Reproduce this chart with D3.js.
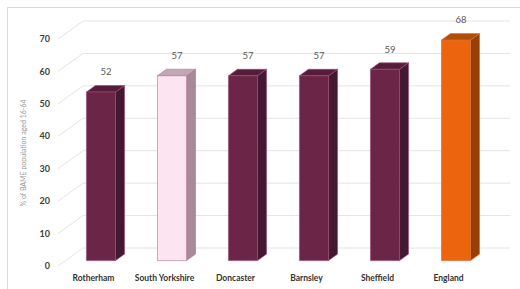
<!DOCTYPE html>
<html>
<head>
<meta charset="utf-8">
<script src="https://cdn.jsdelivr.net/npm/d3@7"></script>
<style>
body { margin: 0; background: #fff; }
text { font-family: Lato, "Open Sans", sans-serif; }
</style>
</head>
<body>
<script>
const areas = ['Rotherham', 'South Yorkshire', 'Doncaster', 'Barnsley', 'Sheffield', 'England'];
const values = [52, 57, 57, 57, 59, 68];
const yTicks = [0, 10, 20, 30, 40, 50, 60, 70];

// colours per bar: [front, side, top, edge]
const maroon = ['#6b2547', '#451831', '#561d3a', '#9c4a78'];
const pink = ['#fce4f1', '#a68a97', '#c2a7b5', '#b56e95'];
const orange = ['#ec640c', '#963f07', '#b24d08', '#d06a3a'];
const barColors = [maroon, pink, maroon, maroon, maroon, orange];

const w = 520, h = 289;

// depth offset of the back wall
const ddx = 25, ddy = -18;

// front plane
const x = d3.scaleBand().domain(areas).range([58, 484]);
const y = d3.scaleLinear().domain([0, 70]).range([266, 39]);

const svg = d3.select('body').append('svg')
    .attr('width', w)
    .attr('height', h);

// outer frame (top + left only are visible)
svg.append('path')
    .attr('d', `M7.5,${h} L7.5,7.5 L${w},7.5`)
    .attr('fill', 'none')
    .attr('stroke', '#d9d9d9');

// gridlines: side wall diagonal + back wall
const grid = svg.append('g').attr('stroke', '#e4e4e4').attr('fill', 'none');
yTicks.forEach(t => {
    let yy = y(t);
    grid.append('path')
        .attr('d', `M${x.range()[0]},${yy} L${x.range()[0] + ddx},${yy + ddy} L${x.range()[1] + ddx + 1},${yy + ddy}`);
});

// tick labels
svg.append('g').selectAll('text')
    .data(yTicks)
    .enter()
    .append('text')
    .attr('x', 50)
    .attr('y', d => y(d))
    .attr('dy', '0.35em')
    .attr('text-anchor', 'end')
    .attr('font-size', 9)
    .attr('font-weight', 'bold')
    .attr('fill', '#404040')
    .text(d => d);

// axis title
svg.append('text')
    .attr('transform', 'translate(24,153) rotate(-90)')
    .attr('text-anchor', 'middle')
    .attr('dy', '0.35em')
    .attr('font-size', 7)
    .attr('fill', '#999')
    .text('% of BAME population aged 16-64');

// bars
const bw = x.bandwidth() * 0.41;
const d0 = 0.3, d1 = 0.66;   // bar depth span
const bars = svg.append('g');
areas.forEach((a, i) => {
    let c = barColors[i];
    let fx = x(a) + (x.bandwidth() - bw) / 2 + ddx * d0;
    let off = ddy * d0;
    let yb = y(0) + off, yt = y(values[i]) + off;
    let sx = ddx * (d1 - d0), sy = ddy * (d1 - d0);
    let g = bars.append('g').attr('stroke', c[3]).attr('stroke-width', 0.6).attr('stroke-linejoin', 'round');
    // side
    g.append('path')
        .attr('d', `M${fx + bw},${yt} L${fx + bw + sx},${yt + sy} L${fx + bw + sx},${yb + sy} L${fx + bw},${yb} Z`)
        .attr('fill', c[1]);
    // top
    g.append('path')
        .attr('d', `M${fx},${yt} L${fx + sx},${yt + sy} L${fx + bw + sx},${yt + sy} L${fx + bw},${yt} Z`)
        .attr('fill', c[2]);
    // front
    g.append('rect')
        .attr('x', fx).attr('y', yt)
        .attr('width', bw).attr('height', yb - yt)
        .attr('fill', c[0]);
    // value label
    svg.append('text')
        .attr('x', fx + bw / 2 + 5)
        .attr('y', yt - 20)
        .attr('dy', '0.35em')
        .attr('text-anchor', 'middle')
        .attr('font-size', 9.5)
        .attr('fill', '#595959')
        .text(values[i]);
});

// category labels
svg.append('g').selectAll('text')
    .data(areas)
    .enter()
    .append('text')
    .attr('x', d => x(d) + x.bandwidth() / 2)
    .attr('y', 278)
    .attr('dy', '0.35em')
    .attr('text-anchor', 'middle')
    .attr('font-size', 8.5)
    .attr('font-weight', 'bold')
    .attr('fill', '#333')
    .text(d => d);
</script>
</body>
</html>
